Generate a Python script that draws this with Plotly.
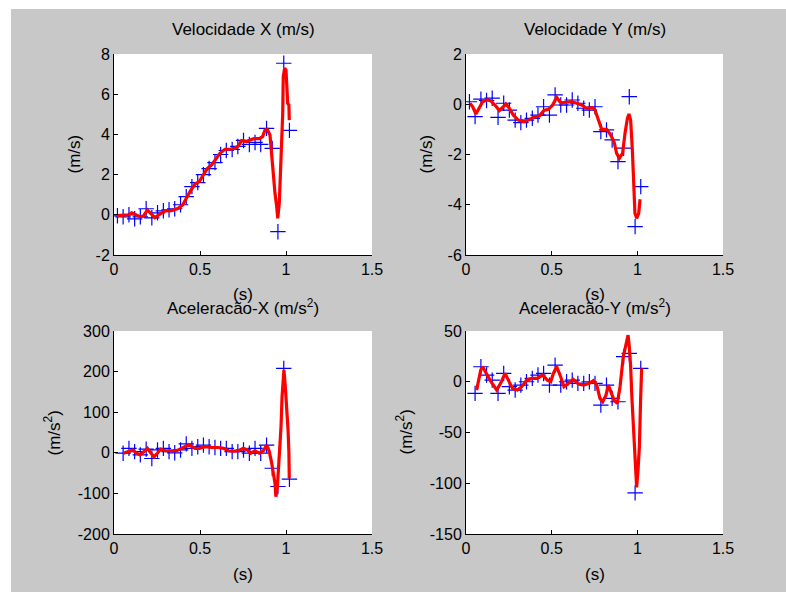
import plotly.graph_objects as go

# ---------------- data ----------------
# sample times of the measured points (blue +)
t_vel = [0.02, 0.053, 0.087, 0.12, 0.153, 0.187, 0.22, 0.253, 0.287, 0.32, 0.353,
         0.387, 0.42, 0.453, 0.487, 0.52, 0.553, 0.587, 0.62, 0.653, 0.687,
         0.72, 0.753, 0.787, 0.82, 0.853, 0.887, 0.92, 0.953, 0.987, 1.02]
vx_pts = [-0.05, -0.1, 0.0, -0.2, -0.1, 0.3, -0.15, 0.1, 0.2, 0.25, 0.3,
          0.5, 0.9, 1.4, 1.6, 2.0, 2.3, 2.6, 3.0, 3.2, 3.25,
          3.4, 3.7, 3.5, 3.6, 3.5, 4.3, 3.3, -0.84, 7.54, 4.2]
vy_pts = [0.10, -0.49, 0.20, 0.15, 0.24, -0.52, 0.04, -0.23, -0.63, -0.73, -0.63,
          -0.56, -0.43, -0.10, -0.43, 0.37, -0.03, -0.03, 0.17, 0.04, -0.16,
          -0.23, -0.10, -1.09, -1.02, -1.42, -2.28, -1.75, 0.30, -4.87, -3.28]

t_acc = [0.053, 0.087, 0.12, 0.153, 0.187, 0.22, 0.253, 0.287, 0.32, 0.353,
         0.387, 0.42, 0.453, 0.487, 0.52, 0.553, 0.587, 0.62, 0.653, 0.687,
         0.72, 0.753, 0.787, 0.82, 0.853, 0.887, 0.92, 0.953, 0.987, 1.02]
ax_pts = [-1, 11, 3, -5, 9, -14, 7, 11, 3, 0,
          7, 22, 11, 15, 19, 15, 13, 11, 11, 3,
          3, 7, -1, 11, -1, 19, -38, -83, 208, -65]
ay_pts = [-11.5, 14.8, 6.6, 1.6, -11.5, 8.2, -4.9, -8.2, -3.3, 0,
          3.3, 6.6, 8.2, -3.3, 16.4, -3.3, 0, 1.6, -1.6, -1.6,
          0, -1.6, -23, -3.3, -16.4, -19.7, 24.7, 28, -109.5, 13.2]

# smoothed curves (red lines)
t_vx_fit = [0.016, 0.054, 0.083, 0.103, 0.122, 0.151, 0.171, 0.194, 0.213, 0.238,
            0.267, 0.297, 0.335, 0.374, 0.399, 0.419, 0.442, 0.471, 0.496, 0.519,
            0.543, 0.568, 0.593, 0.616, 0.645, 0.674, 0.703, 0.723, 0.742, 0.771,
            0.791, 0.814, 0.845, 0.864, 0.878, 0.891, 0.907, 0.917, 0.926, 0.936,
            0.946, 0.952, 0.961, 0.969, 0.975, 0.981, 0.984, 0.992, 1.0, 1.004,
            1.01, 1.017, 1.019]
vx_fit = [-0.04, -0.04, 0.0, 0.1, 0.04, -0.09, -0.06, 0.24, 0.07, -0.14,
          0.04, 0.19, 0.2, 0.32, 0.49, 0.82, 1.15, 1.53, 1.65, 1.98,
          2.31, 2.48, 2.81, 3.06, 3.26, 3.26, 3.31, 3.43, 3.69, 3.64,
          3.72, 3.79, 3.79, 3.89, 4.22, 4.25, 3.97, 2.89, 1.73, 1.07,
          0.41, -0.18, 0.57, 2.39, 3.89, 5.05, 6.87, 7.29, 7.2, 6.21,
          5.54, 5.46, 4.71]

t_vy_fit = [0.023, 0.039, 0.058, 0.078, 0.097, 0.121, 0.144, 0.169, 0.195, 0.218,
            0.233, 0.253, 0.276, 0.305, 0.335, 0.364, 0.397, 0.428, 0.455, 0.481,
            0.506, 0.529, 0.553, 0.584, 0.617, 0.646, 0.675, 0.704, 0.739, 0.753,
            0.772, 0.792, 0.821, 0.844, 0.864, 0.879, 0.895, 0.914, 0.928, 0.942,
            0.951, 0.961, 0.971, 0.977, 0.986, 0.996, 1.008, 1.016]
vy_fit = [0.04, -0.1, -0.39, -0.16, 0.10, 0.17, 0.14, -0.03, -0.25, -0.1,
          0.01, -0.16, -0.43, -0.63, -0.69, -0.63, -0.52, -0.47, -0.25, -0.2,
          -0.03, 0.28, 0.06, 0.08, 0.10, 0.04, -0.03, -0.16, -0.14, -0.23,
          -0.63, -1.0, -1.0, -1.22, -1.49, -1.95, -2.15, -1.95, -1.16, -0.56,
          -0.39, -0.63, -1.82, -3.28, -4.34, -4.54, -4.34, -3.78]

t_ax_fit = [0.054, 0.083, 0.109, 0.132, 0.151, 0.18, 0.194, 0.213, 0.233, 0.252,
            0.271, 0.297, 0.326, 0.364, 0.393, 0.419, 0.442, 0.471, 0.496, 0.529,
            0.568, 0.607, 0.636, 0.665, 0.694, 0.723, 0.752, 0.775, 0.795, 0.82,
            0.845, 0.868, 0.888, 0.903, 0.917, 0.926, 0.936, 0.941, 0.95, 0.957,
            0.965, 0.971, 0.977, 0.983, 0.988, 0.996, 1.004, 1.012, 1.017, 1.019]
ax_fit = [-1, 3, 7, -1, -5, 5, 11, 0, -10, -1,
          9, 5, 5, 5, 11, 17, 19, 11, 11, 15,
          13, 13, 11, 5, 4, 5, 11, 7, -1, 5,
          -1, 5, 19, 3, -26, -46, -75, -108, -83, -34,
          15, 64, 138, 196, 204, 163, 114, 56, -1, -63]

t_ay_fit = [0.062, 0.072, 0.086, 0.097, 0.117, 0.14, 0.16, 0.179, 0.202, 0.228,
            0.247, 0.272, 0.3, 0.325, 0.354, 0.383, 0.416, 0.447, 0.475, 0.494,
            0.51, 0.529, 0.549, 0.572, 0.597, 0.626, 0.656, 0.685, 0.72, 0.743,
            0.763, 0.782, 0.798, 0.817, 0.831, 0.844, 0.864, 0.883, 0.899, 0.918,
            0.934, 0.946, 0.953, 0.961, 0.969, 0.977, 0.984, 0.99, 0.996, 1.004,
            1.012, 1.019, 1.025]
ay_fit = [-8.2, 0, 11.5, 14.8, 8.2, 1.6, -3.3, -8.2, -1.6, 8.2,
          1.6, -6.6, -8.2, -4.9, 1.6, 3.3, 3.3, 6.6, 1.6, 0,
          8.2, 14.8, 6.6, -4.9, -1.6, 2.3, -2.3, -3.3, -1.6, 1,
          -3.3, -16.4, -19.7, -13.2, -3.3, -9.9, -18, -21.4, -4.9, 24.7,
          36, 46, 34.5, 14.8, -18, -44, -67, -94, -104, -87,
          -64, -18, 13.2]

titles = ["Velocidade X (m/s)", "Velocidade Y (m/s)",
          "Aceleracão-X (m/s<sup>2</sup>)", "Aceleracão-Y (m/s<sup>2</sup>)"]
ylabels = ["(m/s)", "(m/s)", "(m/s<sup>2</sup>)", "(m/s<sup>2</sup>)"]
xlabel = "(s)"
x_ticks = [0, 0.5, 1, 1.5]
x_ticktext = ["0", "0.5", "1", "1.5"]
y_ranges = [[-2, 8], [-6, 2], [-200, 300], [-150, 50]]
y_ticks = [[-2, 0, 2, 4, 6, 8], [-6, -4, -2, 0, 2],
           [-200, -100, 0, 100, 200, 300], [-150, -100, -50, 0, 50]]
y_ticktext = [["-2", "0", "2", "4", "6", "8"], ["-6", "-4", "-2", "0", "2"],
              ["-200", "-100", "0", "100", "200", "300"],
              ["-150", "-100", "-50", "0", "50"]]

# ---------------- figure ----------------
W, H = 786, 592
FONT = "Liberation Sans"
GRAY = "#c8c8c8"
fig = go.Figure()

panels = [
    (t_vel, vx_pts, t_vx_fit, vx_fit),
    (t_vel, vy_pts, t_vy_fit, vy_fit),
    (t_acc, ax_pts, t_ax_fit, ax_fit),
    (t_acc, ay_pts, t_ay_fit, ay_fit),
]
# pixel boxes of the axes: (left, right, top, bottom)
boxes = [(114, 372, 54, 255), (466, 723, 54, 255),
         (114, 372, 331, 534), (466, 723, 331, 534)]

layout = dict(
    template="none",
    width=W, height=H, margin=dict(l=0, r=0, t=0, b=0, pad=0, autoexpand=False),
    paper_bgcolor=GRAY, plot_bgcolor="white", showlegend=False,
    font=dict(family=FONT, size=16, color="black"),
    shapes=[dict(type="rect", xref="paper", yref="paper",
                 x0=0, x1=1, y0=1 - 9 / H, y1=1,
                 fillcolor="white", line=dict(width=0), layer="below"),
            dict(type="rect", xref="paper", yref="paper",
                 x0=0, x1=11 / W, y0=0, y1=1,
                 fillcolor="white", line=dict(width=0), layer="below")],
    annotations=[],
)

for i, ((tp, yp, tf, yf), (l, r, tp_, bt)) in enumerate(zip(panels, boxes)):
    n = i + 1
    xa = "x" if n == 1 else f"x{n}"
    ya = "y" if n == 1 else f"y{n}"
    fig.add_trace(go.Scatter(x=tp, y=yp, mode="markers", xaxis=xa, yaxis=ya,
                             marker=dict(symbol="cross-thin-open", size=11,
                                         line=dict(color="#0000ff", width=1.2),
                                         color="#0000ff"),
                             hoverinfo="skip"))
    fig.add_trace(go.Scatter(x=tf, y=yf, mode="lines", xaxis=xa, yaxis=ya,
                             line=dict(color="#ff0000", width=3.2),
                             hoverinfo="skip"))
    axis_common = dict(showline=True, linecolor="black", linewidth=1,
                       mirror=False, ticks="inside", ticklen=4,
                       tickcolor="black", showgrid=False, zeroline=False,
                       automargin=False,
                       tickfont=dict(family=FONT, size=16, color="black"))
    layout["xaxis" if n == 1 else f"xaxis{n}"] = dict(
        domain=[l / W, r / W], range=[0, 1.5], tickvals=x_ticks,
        ticktext=x_ticktext, anchor=ya, **axis_common)
    layout["yaxis" if n == 1 else f"yaxis{n}"] = dict(
        domain=[1 - bt / H, 1 - tp_ / H], range=y_ranges[i],
        tickvals=y_ticks[i], ticktext=y_ticktext[i], anchor=xa, **axis_common)
    cx = (l + r) / 2
    layout["annotations"].append(dict(
        text=titles[i], xref="paper", yref="paper", x=cx / W,
        y=1 - (tp_ - 24) / H, showarrow=False, xanchor="center",
        yanchor="middle", font=dict(family=FONT, size=17, color="black")))
    layout["annotations"].append(dict(
        text=xlabel, xref="paper", yref="paper", x=cx / W,
        y=1 - (bt + 40) / H, showarrow=False, xanchor="center",
        yanchor="middle", font=dict(family=FONT, size=17, color="black")))
    ylab_x = l - (40 if i < 2 else 62)
    layout["annotations"].append(dict(
        text=ylabels[i], xref="paper", yref="paper", x=ylab_x / W,
        y=1 - ((tp_ + bt) / 2) / H, showarrow=False, textangle=-90,
        xanchor="center", yanchor="middle",
        font=dict(family=FONT, size=17, color="black")))

fig.update_layout(**layout)
fig.write_html("out.html")
